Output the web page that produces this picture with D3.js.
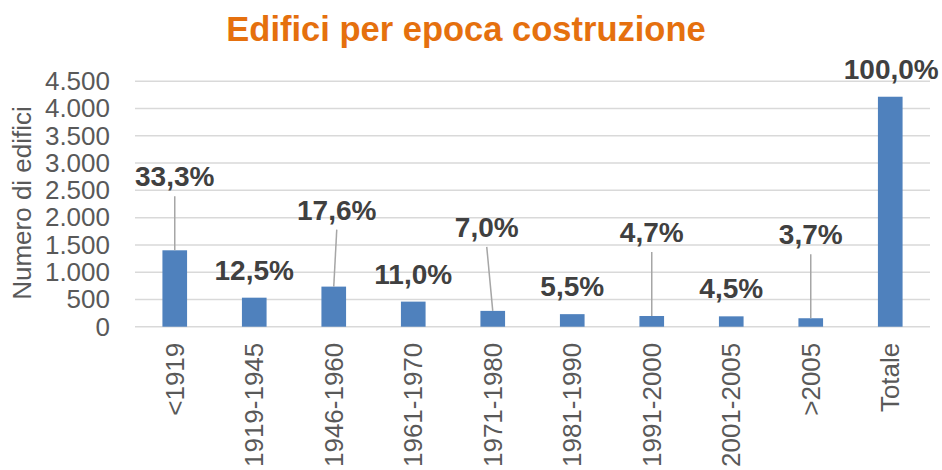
<!DOCTYPE html>
<html><head><meta charset="utf-8">
<script src="https://cdn.jsdelivr.net/npm/d3@7"></script>
<style>body{margin:0;background:#fff}svg{display:block}</style>
</head><body>
<svg id="c" width="942" height="470"></svg>
<script>
const categories = ["<1919","1919-1945","1946-1960","1961-1970","1971-1980","1981-1990","1991-2000","2001-2005",">2005","Totale"];
const values = [1401, 532, 735, 460, 290, 230, 196, 190, 155, 4217];
const percentLabels = ["33,3%","12,5%","17,6%","11,0%","7,0%","5,5%","4,7%","4,5%","3,7%","100,0%"];
const yTicks = [0,500,1000,1500,2000,2500,3000,3500,4000,4500];
const titleText = "Edifici per epoca costruzione";
const yTitle = "Numero di edifici";

// layout of the manually moved data labels (pixels above bar top, horizontal shift)
const labelLift = [64,18,67,18,74,18,74,18,74,18];
const labelShift = [0,0,3,0,-6,0,0,0,0,1];

const svg = d3.select("#c");
const font = "'Liberation Sans', Arial, sans-serif";
const x = d3.scaleBand().domain(categories).range([135,930]).paddingInner(0.69).paddingOuter(0.345);
const y = d3.scaleLinear().domain([0,4500]).range([326.7,81.3]);
const it = d3.formatLocale({decimal:",",thousands:".",grouping:[3],currency:["","€"]});
const fmt = it.format(",");

svg.append("text").attr("x",466).attr("y",41).attr("text-anchor","middle")
  .attr("font-family",font).attr("font-weight","bold").attr("font-size",34.5)
  .attr("fill","#E5700E").text(titleText);

// gridlines
svg.append("g").selectAll("line").data(yTicks).join("line")
  .attr("x1",135).attr("x2",930).attr("y1",d=>y(d)).attr("y2",d=>y(d))
  .attr("stroke","#d9d9d9").attr("stroke-width",1.5);

// y axis
const yAxis = svg.append("g").attr("transform","translate(135,0)")
  .call(d3.axisLeft(y).tickValues(yTicks).tickFormat(fmt).tickSize(0).tickPadding(25));
yAxis.select(".domain").remove();
yAxis.selectAll("text").attr("font-family",font).attr("font-size",26).attr("fill","#595959");

svg.append("text").attr("transform","translate(31,203) rotate(-90)").attr("text-anchor","middle")
  .attr("font-family",font).attr("font-size",26).attr("fill","#595959").text(yTitle);

// bars
svg.append("g").selectAll("rect").data(values).join("rect")
  .attr("x",(d,i)=>x(categories[i])).attr("width",x.bandwidth())
  .attr("y",d=>y(d)).attr("height",d=>y(0)-y(d)).attr("fill","#4F81BD");

// x axis labels
const xAxis = svg.append("g").attr("transform",`translate(0,${y(0)})`)
  .call(d3.axisBottom(x).tickSize(0).tickPadding(0));
xAxis.select(".domain").remove();
xAxis.selectAll(".tick text")
  .attr("transform","translate(9,16) rotate(-90)").attr("text-anchor","end").attr("dy",0).attr("y",0).attr("x",0)
  .attr("font-family",font).attr("font-size",26).attr("fill","#595959");

// leader lines
const cx = i => x(categories[i]) + x.bandwidth()/2;
svg.append("g").selectAll("line").data(values.map((v,i)=>({v,i})).filter(d=>labelLift[d.i]>30)).join("line")
  .attr("x1",d=>cx(d.i)+labelShift[d.i]).attr("y1",d=>y(d.v)-labelLift[d.i]+10)
  .attr("x2",d=>cx(d.i)).attr("y2",d=>y(d.v))
  .attr("stroke","#a6a6a6").attr("stroke-width",1.5);

// data labels
svg.append("g").selectAll("text").data(values).join("text")
  .attr("x",(d,i)=>cx(i)+labelShift[i]).attr("y",(d,i)=>y(d)-labelLift[i])
  .attr("text-anchor","middle").attr("font-family",font).attr("font-weight","bold")
  .attr("font-size",28).attr("fill","#404040").text((d,i)=>percentLabels[i]);
</script>
</body></html>
